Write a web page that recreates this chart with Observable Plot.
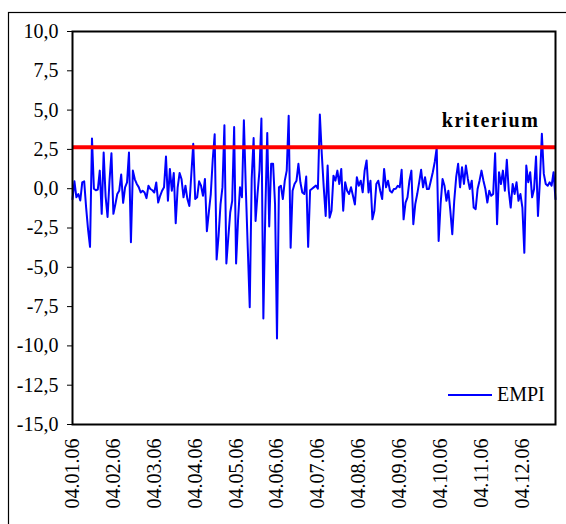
<!DOCTYPE html>
<html><head><meta charset="utf-8">
<script src="https://cdn.jsdelivr.net/npm/d3@7"></script>
<script src="https://cdn.jsdelivr.net/npm/@observablehq/plot@0.6"></script>
<style>
html,body{margin:0;padding:0;background:#fff;overflow:hidden;}
#wrap{position:relative;width:566px;height:524px;overflow:hidden;background:#fff;}
#chart{position:absolute;left:0;top:0;}
</style></head><body>
<div id="wrap"><div id="chart"></div></div>
<script>
// EMPI series (one value per trading day)
const values = [
-0.66,0.47,-0.55,-0.34,-0.75,0.4,0.47,-1.2,-2.6,-3.7,
3.2,0.0,-0.1,-0.05,1.15,-1.6,2.3,-0.5,-1.8,0.5,
2.26,-1.6,-1.0,-0.34,-0.13,0.9,-0.9,0.08,0.4,2.3,
-3.4,1.15,0.6,0.3,0.1,-0.24,-0.13,-0.24,-0.6,0.19,
-0.02,-0.1,-0.24,0.4,-0.88,-0.45,-0.13,0.09,2.05,-0.77,
1.26,-0.13,1.0,-2.2,0.09,1.0,0.6,-0.55,0.19,-0.66,
-1.1,0.9,2.86,-0.66,-0.55,0.47,0.19,-0.45,0.62,-2.7,
-1.5,-0.34,1.84,3.46,-4.5,-3.0,-1.0,0.1,4.04,-4.76,
-3.1,-1.5,-0.77,3.93,-4.76,-2.0,0.09,-0.55,4.36,0.0,
-3.8,-7.54,0.62,3.23,-2.05,-0.34,1.15,4.47,-8.25,-1.5,
3.55,-2.4,1.58,1.58,-1.0,-9.53,0.09,0.19,-0.66,0.51,
1.15,4.64,-3.76,-0.13,0.3,0.5,1.58,0.41,-0.24,-0.34,
0.77,-3.7,-0.1,0.0,0.1,0.2,0.0,4.72,2.2,0.1,
-1.73,1.47,-1.84,-1.4,0.83,0.51,1.15,0.3,1.26,-1.4,
0.41,-0.13,-0.34,0.09,-0.45,-1.0,0.73,0.19,0.51,-0.23,
1.15,1.8,-0.24,0.51,-1.95,-1.4,0.3,0.51,-0.13,-0.66,
1.26,0.09,0.51,-0.13,-0.24,-0.02,0.0,0.19,0.09,1.2,
-1.95,-0.88,-0.55,0.51,1.15,-2.26,-0.98,-0.34,0.4,1.2,
0.09,0.73,-0.02,-0.02,0.51,1.05,1.7,2.6,-3.33,-0.98,
0.62,0.19,-0.77,-0.13,-1.4,-2.9,-0.77,0.73,1.58,0.09,
1.37,0.3,1.47,0.62,-0.02,0.51,-1.2,-1.3,-0.02,0.51,
1.15,0.51,-0.02,-0.88,-0.13,-0.45,-0.34,2.26,-2.26,1.05,
0.3,1.15,-0.13,1.84,-0.13,-1.2,0.3,-0.34,0.41,-0.77,
-0.34,-1.2,-4.08,1.47,0.41,1.05,-0.55,-0.02,2.05,-1.73,
0.51,3.5,0.94,0.3,0.19,0.41,0.19,1.05,-0.66
];
const tickIndex = [0,21,42,63,84,105,126,147,168,189,210,231];
const tickLabels = ["04.01.06","04.02.06","04.03.06","04.04.06","04.05.06","04.06.06",
                    "04.07.06","04.08.06","04.09.06","04.10.06","04.11.06","04.12.06"];
const yTicks = [-15,-12.5,-10,-7.5,-5,-2.5,0,2.5,5,7.5,10];
const kriterium = 2.64;
const seriesName = "EMPI";
const criterionLabel = "kriterium";

const fmt = d => d.toFixed(1).replace(".", ",");
const W = 566, H = 524, mL = 72, mR = 11, mT = 31, mB = 100;

const chart = Plot.plot({
  width: W, height: H,
  marginLeft: mL, marginRight: mR, marginTop: mT, marginBottom: mB,
  style: {fontFamily: "'Liberation Serif', 'Times New Roman', serif", fontSize: "20px", background: "transparent", color: "#000"},
  x: {domain: [0, values.length - 1], axis: null},
  y: {domain: [-15, 10], ticks: yTicks, tickFormat: fmt, tickSize: 5, tickPadding: 9, label: null},
  marks: [
    Plot.line(values, {x: (d, i) => i, y: d => d, stroke: "#0000ff", strokeWidth: 2}),
    Plot.ruleY([kriterium], {stroke: "#ff0000", strokeWidth: 4}),
    Plot.text([criterionLabel], {y: kriterium, text: d => d, frameAnchor: "right", textAnchor: "end",
      lineAnchor: "bottom", dx: -16, dy: -20, fontWeight: "bold", fontSize: 20, fill: "#000"}),
    Plot.text(tickIndex, {x: d => d, y: -15, text: (d, i) => tickLabels[i], rotate: -90,
      textAnchor: "end", lineAnchor: "middle", dy: 14, fontSize: 20, fill: "#000"}),
    Plot.frame({stroke: "#000", strokeWidth: 2})
  ]
});
document.getElementById("chart").appendChild(chart);

const svg = d3.select(chart);
svg.selectAll("text").filter(function () { return this.textContent === criterionLabel; })
   .attr("letter-spacing", "1.6px");
// outer chart-area border (extends past the right/bottom edges of the window)
svg.insert("rect", ":first-child")
   .attr("x", 8.5).attr("y", 12.5).attr("width", 600).attr("height", 600)
   .attr("fill", "none").attr("stroke", "#000").attr("stroke-width", 1.2);
// legend inside the plot area, bottom-right
const fx2 = W - mR, fy2 = H - mB;
const lg = svg.append("g");
lg.append("line").attr("x1", fx2 - 107).attr("x2", fx2 - 63)
  .attr("y1", fy2 - 29).attr("y2", fy2 - 29).attr("stroke", "#0000ff").attr("stroke-width", 2);
lg.append("text").attr("x", fx2 - 58).attr("y", fy2 - 29).attr("dy", "0.32em")
  .attr("text-anchor", "start").attr("font-size", 20).attr("fill", "#000").text(seriesName);
</script>
</body></html>
